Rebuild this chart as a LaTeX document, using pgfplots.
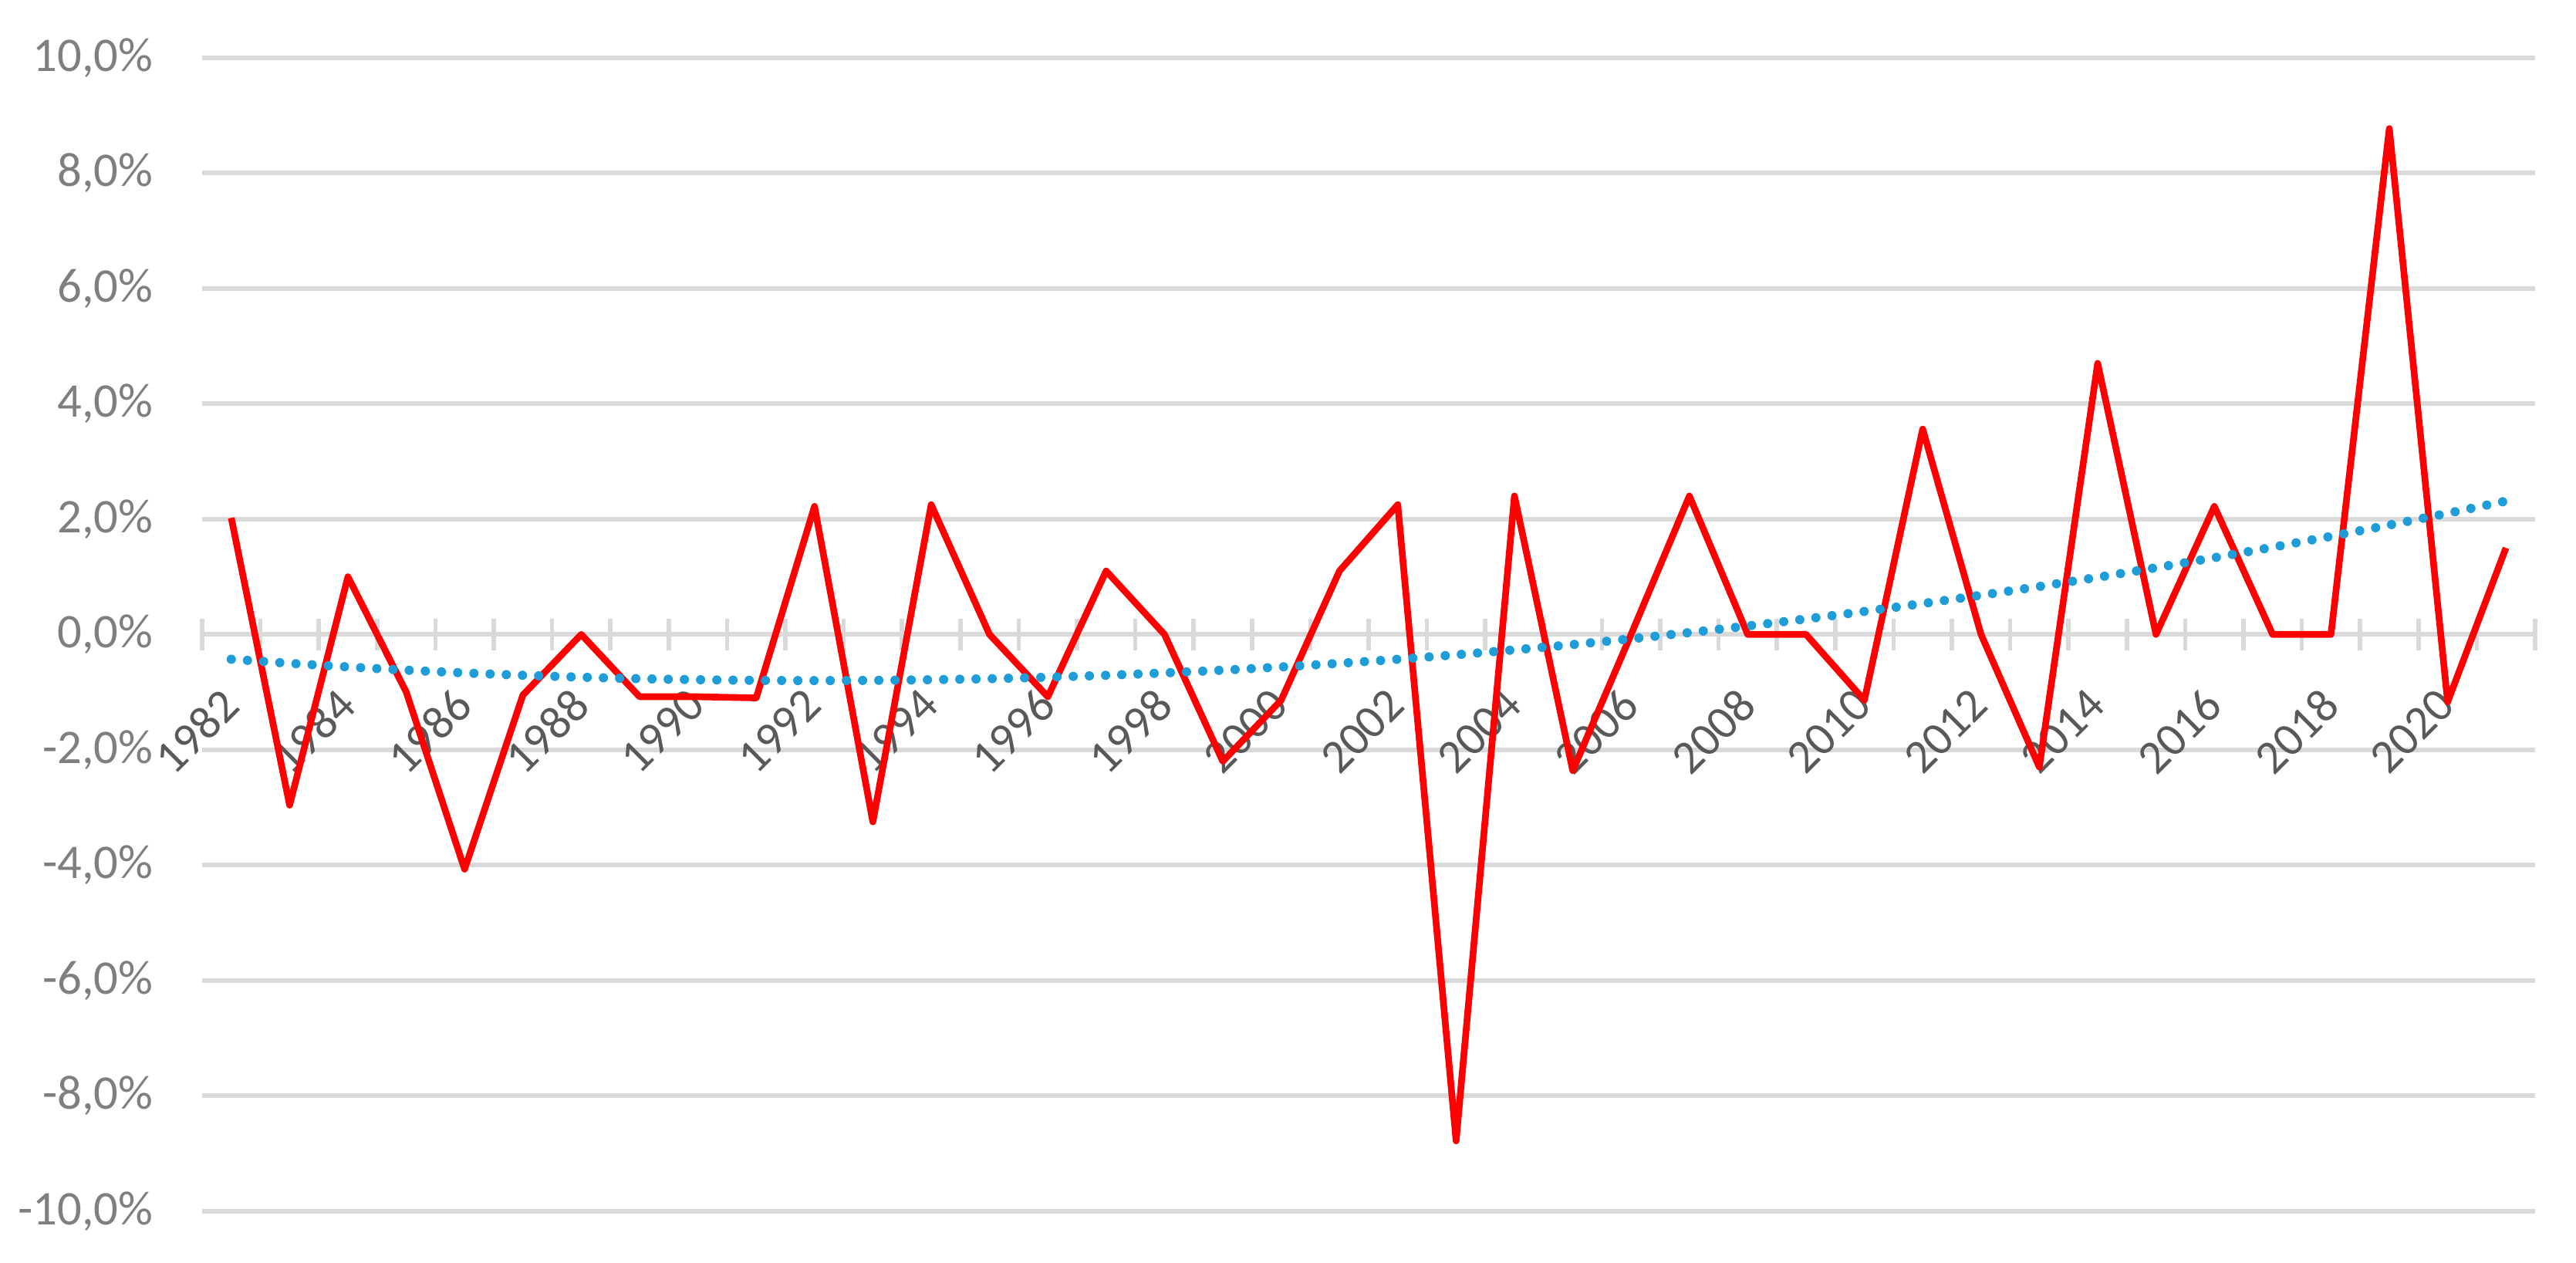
\documentclass[border=0pt]{standalone}
\usepackage{pgfplots}
\pgfplotsset{compat=1.18}
\usepackage{fontspec}
\setmainfont{Carlito}
\definecolor{gridgray}{RGB}{217,217,217}
\definecolor{ylab}{RGB}{127,127,127}
\definecolor{xlab}{RGB}{89,89,89}
\definecolor{linered}{RGB}{255,0,0}
\definecolor{trendblue}{RGB}{30,157,217}
\begin{document}
\begin{tikzpicture}
\begin{axis}[
  scale only axis, width=453.6pt, height=224.3pt,
  xmin=1981.5, xmax=2021.5, ymin=-10, ymax=10,
  enlargelimits=false,
  axis x line=middle, axis y line=left,
  x axis line style={-, draw=gridgray, line width=0.9pt},
  y axis line style={draw=none},
  ytick={-10,-8,-6,-4,-2,0,2,4,6,8,10},
  yticklabels={{-10,0\%},{-8,0\%},{-6,0\%},{-4,0\%},{-2,0\%},{0,0\%},{2,0\%},{4,0\%},{6,0\%},{8,0\%},{10,0\%}},
  xtick={1982,1984,1986,1988,1990,1992,1994,1996,1998,2000,2002,2004,2006,2008,2010,2012,2014,2016,2018,2020},
  xticklabels={1982,1984,1986,1988,1990,1992,1994,1996,1998,2000,2002,2004,2006,2008,2010,2012,2014,2016,2018,2020},
  minor xtick={1981.5,1982.5,...,2021.5},
  major tick length=0pt,
  minor tick length=6.2pt,
  tick align=center,
  minor tick style={draw=gridgray, line width=0.85pt},
  ymajorgrids,
  major grid style={draw=gridgray, line width=0.9pt},
  yticklabel style={text=ylab, xshift=-6pt, font=\fontsize{9.4}{11}\selectfont},
  xticklabel style={xshift=-2.4pt, yshift=-5pt, rotate=45, anchor=north east, text=xlab, font=\fontsize{9.2}{11}\selectfont},
]
\addplot[linered, line width=1.3pt, line join=round, mark=none] coordinates {
(1982,2.02) (1983,-2.96) (1984,1.00) (1985,-1.00) (1986,-4.07) (1987,-1.05)
(1988,0.00) (1989,-1.08) (1990,-1.08) (1991,-1.10) (1992,2.22) (1993,-3.25)
(1994,2.25) (1995,0.00) (1996,-1.08) (1997,1.10) (1998,0.00) (1999,-2.20)
(2000,-1.14) (2001,1.10) (2002,2.25) (2003,-8.78) (2004,2.40) (2005,-2.36)
(2006,0.00) (2007,2.40) (2008,0.00) (2009,0.00) (2010,-1.14) (2011,3.56)
(2012,0.00) (2013,-2.30) (2014,4.70) (2015,0.00) (2016,2.22) (2017,0.00)
(2018,0.00) (2019,8.77) (2020,-1.17) (2021,1.50)
};
\addplot[trendblue, line width=1.8pt, line cap=round, dash pattern=on 0pt off 3.15pt, mark=none, smooth] coordinates {
(1982,-0.430) (1983,-0.500) (1984,-0.563) (1985,-0.619) (1986,-0.667) (1987,-0.708)
(1988,-0.741) (1989,-0.767) (1990,-0.785) (1991,-0.796) (1992,-0.800) (1993,-0.796)
(1994,-0.785) (1995,-0.767) (1996,-0.741) (1997,-0.708) (1998,-0.667) (1999,-0.619)
(2000,-0.563) (2001,-0.500) (2002,-0.430) (2003,-0.352) (2004,-0.267) (2005,-0.175)
(2006,-0.075) (2007,0.033) (2008,0.147) (2009,0.269) (2010,0.399) (2011,0.536)
(2012,0.680) (2013,0.832) (2014,0.991) (2015,1.157) (2016,1.331) (2017,1.513)
(2018,1.701) (2019,1.897) (2020,2.101) (2021,2.312)
};
\end{axis}
\path (current axis.south west) ++(-39.3pt,-10.05pt) coordinate (bl);
\path (current axis.north east) ++(7.95pt,11.2pt) coordinate (tr);
\pgfresetboundingbox
\path (bl) rectangle (tr);
\end{tikzpicture}
\end{document}
